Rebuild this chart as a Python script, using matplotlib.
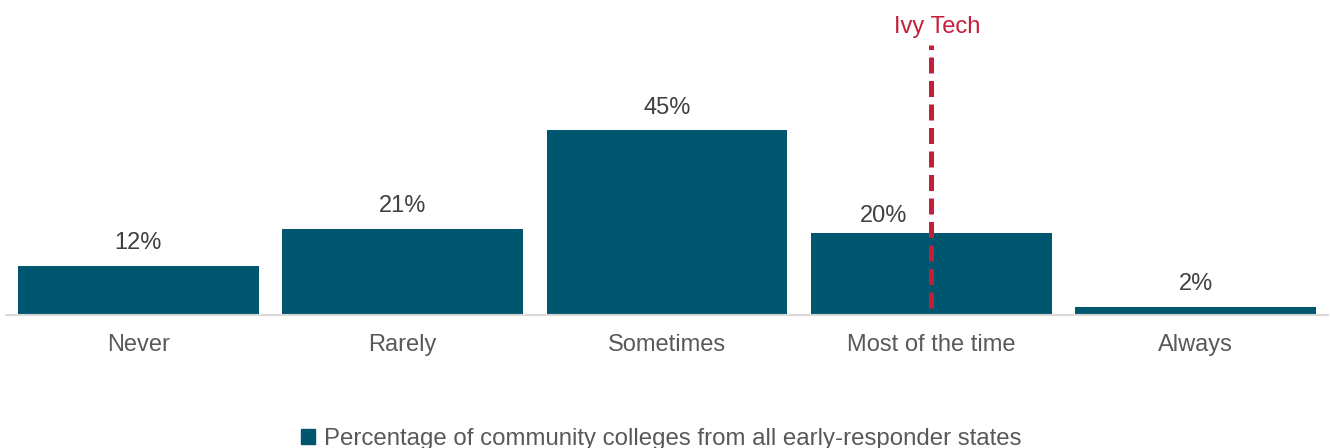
import matplotlib.pyplot as plt
from matplotlib.patches import Patch

plt.rcParams['font.family'] = ['Liberation Sans', 'DejaVu Sans']

categories = ['Never', 'Rarely', 'Sometimes', 'Most of the time', 'Always']
values = [12, 21, 45, 20, 2]
series_name = 'Percentage of community colleges from all early-responder states'
marker_category = 'Most of the time'
marker_label = 'Ivy Tech'

bar_color = '#00566F'
red = '#C41E3A'

fig = plt.figure(figsize=(13.3, 4.48), dpi=100)
ax = fig.add_axes([6 / 1330, 1 - 315 / 448, 1322 / 1330, 0.642])

x = list(range(len(categories)))
ax.bar(x, values, width=0.91, color=bar_color, zorder=2)
ax.set_xlim(-0.5, len(categories) - 0.5)
ax.set_ylim(0, 70)

mx = categories.index(marker_category)
for xi, v in zip(x, values):
    # the label over the marked bar is nudged left of the dashed line
    if xi == mx:
        ax.text(xi - 0.18, v + 4.2, f'{v}%', ha='center', va='center',
                fontsize=17, color='#404040')
    else:
        ax.text(xi, v + 5.5, f'{v}%', ha='center', va='center',
                fontsize=17, color='#404040')

# Ivy Tech marker
ax.plot([mx, mx], [1.7, 65.7], color=red, lw=3.6, ls=(0, (3.2, 1.5)),
        zorder=3, clip_on=False)
ax.text(mx + 0.02, 70.0, marker_label, ha='center', va='center',
        fontsize=17, color=red, clip_on=False)

for s in ['top', 'right', 'left']:
    ax.spines[s].set_visible(False)
ax.spines['bottom'].set_color('#D9D9D9')
ax.spines['bottom'].set_linewidth(1.5)
ax.set_yticks([])
ax.set_xticks(x)
ax.set_xticklabels(categories, fontsize=17, color='#595959')
ax.tick_params(axis='x', length=0, pad=14)

fig.legend(handles=[Patch(color=bar_color, label=series_name)],
           loc='center', bbox_to_anchor=(0.497, 1 - 439 / 448), frameon=False,
           fontsize=17.3, handlelength=0.6, handleheight=0.6, handletextpad=0.35,
           labelcolor='#595959')

fig.savefig('out.png', dpi=100)
